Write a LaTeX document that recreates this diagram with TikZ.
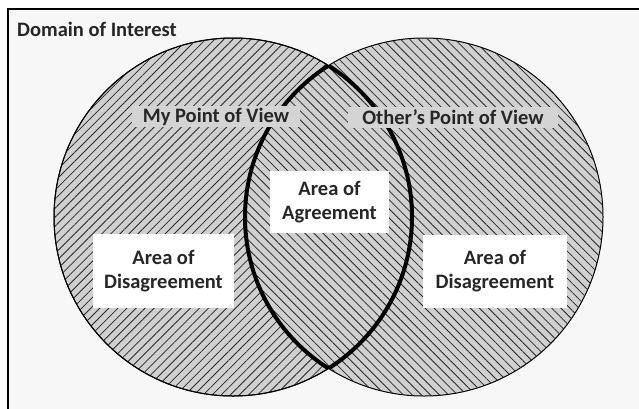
\documentclass[tikz,border=0pt]{standalone}
\usepackage{fontspec}
\setmainfont{Carlito}
\usetikzlibrary{patterns.meta}
\definecolor{framebg}{RGB}{247,247,247}
\definecolor{circfill}{RGB}{208,208,208}
\definecolor{labfill}{RGB}{212,212,212}
\definecolor{hatch}{RGB}{40,40,40}
\tikzset{
  venn/.style={circle, draw=black, line width=1bp, minimum size=358bp, inner sep=0pt, fill=circfill},
  hatchNE/.style={pattern={Lines[angle=45,distance=6.4bp,line width=0.8bp]}, pattern color=hatch},
  hatchNW/.style={pattern={Lines[angle=-45,distance=6.4bp,line width=0.8bp]}, pattern color=hatch},
  lab/.style={font=\bfseries\fontsize{20.5bp}{24bp}\selectfont, text=black!85},
  povbox/.style={lab, fill=labfill, inner sep=0pt, minimum height=21bp},
  areabox/.style={lab, fill=white, align=center, inner sep=0pt}
}
\begin{document}
\begin{tikzpicture}[x=1bp,y=-1bp]
\useasboundingbox (0,0) rectangle (639,408);
\fill[white] (0,0) rectangle (639,408);
\draw[fill=framebg, line width=1.3bp] (8,9) rectangle (680,450);
\node[lab, anchor=base west, inner sep=0pt] (domain) at (17,36) {Domain of Interest};
% circles
\node[venn] (L) at (233,217) {};
\node[hatchNE, circle, minimum size=358bp, inner sep=0pt] (Lh) at (233,217) {};
\node[venn] (R) at (424,217) {};
\node[hatchNW, circle, minimum size=358bp, inner sep=0pt] (Rh) at (424,217) {};
\draw[line width=1bp] (L.center) circle[radius=179];
% lens outline
\begin{scope}
  \clip (R.center) circle[radius=179];
  \draw[line width=4bp] (L.center) circle[radius=179];
\end{scope}
\begin{scope}
  \clip (L.center) circle[radius=179];
  \draw[line width=4bp] (R.center) circle[radius=179];
\end{scope}
% labels
\node[povbox, minimum width=168bp] (my) at (216,116.5) {My Point of View};
\node[povbox, minimum width=210bp] (other) at (453,117) {Other’s Point of View};
\node[areabox, minimum width=119bp, minimum height=62bp] (agree) at (329.5,202) {Area of\\Agreement};
\node[areabox, minimum width=141bp, minimum height=74bp] (disL) at (163.5,271) {Area of\\Disagreement};
\node[areabox, minimum width=144bp, minimum height=73bp] (disR) at (495,271.5) {Area of\\Disagreement};
\end{tikzpicture}
\end{document}
